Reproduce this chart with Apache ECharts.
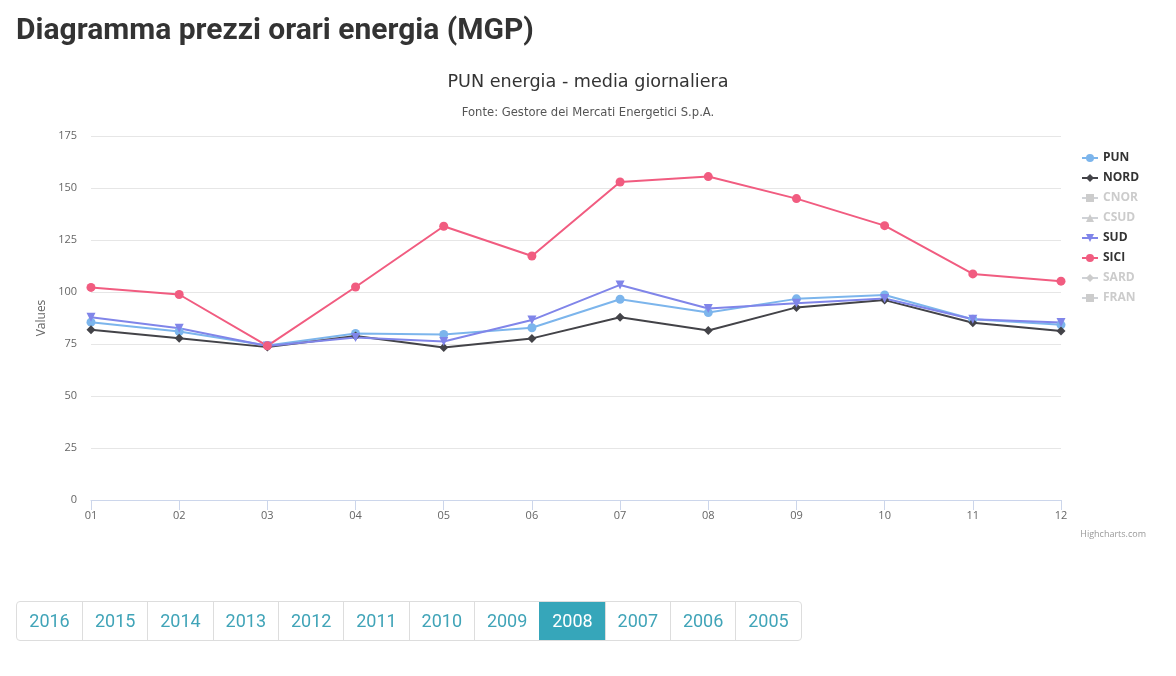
<!DOCTYPE html>
<html>
<head>
<meta charset="utf-8">
<script src="https://cdn.jsdelivr.net/npm/echarts@6/dist/echarts.min.js"></script>
<style>
  html, body { margin: 0; padding: 0; background: #fff; width: 1176px; height: 676px; overflow: hidden; }
  #chart { position: absolute; left: 0; top: 0; width: 1176px; height: 676px; }
  h1 { position: absolute; left: 16px; top: 9px; margin: 0; font-family: Roboto, sans-serif; font-weight: 700; font-size: 30px; color: #333; line-height: 40px; z-index: 2; }
  .years { position: absolute; left: 16px; top: 601px; height: 38px; display: flex; border: 1px solid #ddd; border-radius: 4px; overflow: hidden; z-index: 2; }
  .years span { display: block; width: 64.33px; height: 38px; line-height: 38px; text-align: center; font-family: Roboto, sans-serif; font-size: 18px; color: #40a4b8; border-left: 1px solid #ddd; }
  .years span:first-child { border-left: none; width: 65px; }
  .years span.active { background: #36a6ba; color: #fff; border-left-color: #36a6ba; }
</style>
</head>
<body>
<h1>Diagramma prezzi orari energia (MGP)</h1>
<div id="chart"></div>
<div class="years" id="years"></div>
<script>
const months = ['01','02','03','04','05','06','07','08','09','10','11','12'];
const years = ['2016','2015','2014','2013','2012','2011','2010','2009','2008','2007','2006','2005'];
const activeYear = '2008';
const seriesNames = ['PUN','NORD','CNOR','CSUD','SUD','SICI','SARD','FRAN'];
const hiddenSeries = ['CNOR','CSUD','SARD','FRAN'];
const PUN  = [85.5, 81.0, 74.3, 80.1, 79.6, 82.8, 96.5, 90.1, 96.7, 98.6, 86.9, 84.2];
const NORD = [81.8, 77.8, 73.5, 78.8, 73.3, 77.7, 87.9, 81.5, 92.6, 96.1, 85.2, 81.3];
const CNOR = [];
const CSUD = [];
const SUD  = [87.9, 82.6, 74.0, 78.1, 76.2, 86.5, 103.4, 92.1, 94.6, 96.9, 86.9, 85.3];
const SICI = [102.2, 98.8, 74.1, 102.4, 131.6, 117.3, 152.9, 155.5, 144.9, 131.9, 108.7, 105.2];
const SARD = [];
const FRAN = [];
const yTicks = [0, 25, 50, 75, 100, 125, 150, 175];

const dataMap = {PUN, NORD, CNOR, CSUD, SUD, SICI, SARD, FRAN};
const colors = ['#7cb5ec','#434348','#90ed7d','#f7a35c','#8085e9','#f15c80','#e4d354','#2b908f'];
const symbols = ['circle','diamond','rect','triangle','triangle','circle','diamond','rect'];
const rotations = [0,0,0,0,180,0,0,0];

const yb = document.getElementById('years');
years.forEach(y => {
  const s = document.createElement('span');
  s.textContent = y;
  if (y === activeYear) s.className = 'active';
  yb.appendChild(s);
});

const font = '"Open Sans", sans-serif';
const tfont = '"DejaVu Sans", sans-serif';
const chart = echarts.init(document.getElementById('chart'), null, {renderer: 'canvas'});
const selected = {};
seriesNames.forEach(n => selected[n] = hiddenSeries.indexOf(n) < 0);

chart.setOption({
  animation: false,
  color: colors,
  title: [
    {text: 'PUN energia - media giornaliera', left: 'center', top: 68,
     textStyle: {fontFamily: tfont, fontSize: 17.6, fontWeight: 'normal', color: '#333'}},
    {text: 'Fonte: Gestore dei Mercati Energetici S.p.A.', left: 'center', top: 102,
     textStyle: {fontFamily: tfont, fontSize: 11.6, fontWeight: 'normal', color: '#555'}}
  ],
  legend: {
    orient: 'vertical', left: 1081, top: 152, padding: 0,
    itemWidth: 16, itemHeight: 10, itemGap: 8,
    selected: selected,
    inactiveColor: '#cccccc',
    textStyle: {fontFamily: font, fontSize: 12, fontWeight: 'bold', color: '#333'},
    data: seriesNames
  },
  grid: {left: 91, right: 115, top: 136, bottom: 176},
  xAxis: {
    type: 'category', data: months, boundaryGap: false,
    axisLine: {lineStyle: {color: '#ccd6eb'}},
    axisTick: {show: true, length: 10, lineStyle: {color: '#ccd6eb'}},
    axisLabel: {color: '#666', fontSize: 11, fontFamily: font, margin: 10}
  },
  yAxis: {
    type: 'value', min: 0, max: 175, interval: 25,
    name: 'Values', nameLocation: 'middle', nameGap: 42, nameRotate: 90,
    nameTextStyle: {color: '#666', fontSize: 12, fontFamily: font},
    axisLine: {show: false}, axisTick: {show: false},
    splitLine: {lineStyle: {color: '#e6e6e6'}},
    axisLabel: {color: '#666', fontSize: 11, fontFamily: font, margin: 14}
  },
  graphic: [{
    type: 'text', right: 30, top: 530,
    style: {text: 'Highcharts.com', fill: '#999', font: '9px ' + font}
  }],
  series: seriesNames.map((n, i) => ({
    name: n, type: 'line', data: dataMap[n],
    symbol: symbols[i], symbolSize: 9,
    symbolRotate: rotations[i],
    lineStyle: {width: 2, color: colors[i]},
    itemStyle: {color: colors[i], borderWidth: 0},
    emphasis: {disabled: true}
  }))
});
</script>
</body>
</html>
